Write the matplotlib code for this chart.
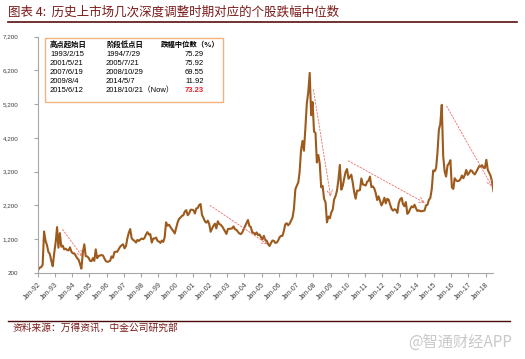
import pandas as pd
import matplotlib.pyplot as plt
import matplotlib.dates as mdates
from matplotlib.lines import Line2D
from matplotlib.patches import Rectangle
from matplotlib.ticker import FuncFormatter

plt.rcParams['font.family'] = ['Liberation Sans', 'Noto Sans CJK SC']

# Shanghai composite, one reading per month (Jan-1992 .. Jun-2018)
index_values = [
    300, 360, 375, 445, 1429, 1150, 1030, 820, 760, 560, 400, 780,          # 1992
    1100, 1558, 950, 1380, 980, 1010, 900, 920, 880, 870, 960, 830,         # 1993
    780, 780, 720, 640, 600, 470, 330, 800, 1050, 700, 690, 650,            # 1994
    560, 550, 640, 560, 900, 640, 700, 720, 730, 720, 630, 555,             # 1995
    530, 540, 560, 690, 650, 820, 830, 830, 910, 980, 1020, 1050,           # 1996
    930, 1000, 1220, 1390, 1500, 1230, 1180, 1150, 1100, 1180, 1150, 1190,  # 1997
    1220, 1200, 1240, 1340, 1410, 1340, 1350, 1100, 1220, 1220, 1250, 1150, # 1998
    1130, 1090, 1160, 1120, 1250, 1700, 1600, 1630, 1560, 1500, 1440, 1370, # 1999
    1540, 1700, 1800, 1840, 1890, 1910, 2020, 2060, 1910, 1960, 2070, 2073, # 2000
    2060, 1960, 2110, 2120, 2210, 2240, 1920, 1830, 1730, 1690, 1750, 1646, # 2001
    1420, 1520, 1600, 1660, 1520, 1730, 1650, 1630, 1580, 1510, 1430, 1357, # 2002
    1500, 1510, 1510, 1520, 1580, 1490, 1480, 1420, 1370, 1350, 1400, 1497, # 2003
    1590, 1680, 1770, 1590, 1560, 1400, 1390, 1340, 1400, 1320, 1340, 1266, # 2004
    1190, 1300, 1180, 1160, 1060, 1000, 1083, 1160, 1155, 1092, 1099, 1161, # 2005
    1258, 1299, 1298, 1440, 1641, 1672, 1612, 1658, 1752, 1837, 2099, 2675, # 2006
    2786, 2881, 3183, 3841, 4109, 3820, 4471, 5218, 5552, 6124, 4871, 5262, # 2007
    4383, 4348, 3473, 3693, 3433, 2736, 2775, 2397, 2293, 1700, 1871, 1820, # 2008
    1991, 2082, 2373, 2477, 2632, 2959, 3400, 2667, 2779, 2996, 3195, 3277, # 2009
    2989, 3051, 3109, 2870, 2592, 2398, 2638, 2638, 2655, 3000, 2820, 2808, # 2010
    2790, 2905, 2928, 3050, 2743, 2762, 2701, 2567, 2359, 2468, 2333, 2199, # 2011
    2292, 2428, 2262, 2396, 2372, 2225, 2103, 2047, 2086, 2069, 1980, 2269, # 2012
    2385, 2420, 2236, 2177, 2300, 1950, 1994, 2098, 2174, 2141, 2220, 2116, # 2013
    2033, 2056, 2033, 2026, 2039, 2048, 2201, 2217, 2364, 2420, 2683, 3235, # 2014
    3210, 3310, 3748, 4441, 4612, 5178, 3664, 3206, 3053, 3383, 3445, 3539, # 2015
    2738, 2688, 3004, 2938, 2917, 2930, 2979, 3085, 3005, 3100, 3250, 3104, # 2016
    3159, 3242, 3223, 3155, 3117, 3192, 3273, 3361, 3349, 3393, 3317, 3307, # 2017
    3550, 3250, 3170, 3080, 2900, 2620,                                     # 2018
]
dates = pd.date_range('1992-01-01', periods=len(index_values), freq='MS') + pd.Timedelta(days=14)

# red dashed arrows: (start date, start value, end date, end value)
arrow_start_dates = ['1993-06-10', '2002-01-01', '2008-01-01', '2010-01-10', '2015-09-25']
arrow_start_values = [1490, 2200, 5630, 3520, 5140]
arrow_end_dates = ['1994-08-10', '2005-05-05', '2009-01-01', '2014-06-25', '2018-05-15']
arrow_end_values = [680, 1050, 2460, 2270, 2760]

# inset table
table_header = ['高点起始日', '阶段低点日', '跌幅中位数（%）']
peak_dates = ['1993/2/15', '2001/5/21', '2007/6/19', '2009/8/4', '2015/6/12']
low_dates = ['1994/7/29', '2005/7/21', '2008/10/29', '2014/5/7', '2018/10/21（Now）']
median_drop = ['75.29', '75.92', '69.55', '11.92', '73.23']

W, H = 525, 359


def fx(x):
    return x / W


def fy(y):
    return 1 - y / H


fig = plt.figure(figsize=(W / 100, H / 100), dpi=100)
ax = fig.add_axes([fx(37.7), fy(273), fx(493) - fx(37.7), fy(36.5) - fy(273)])

ax.plot(dates, index_values, color='#9C5A1C', lw=1.5)

for sd, sv, ed, ev in zip(arrow_start_dates, arrow_start_values, arrow_end_dates, arrow_end_values):
    ax.annotate('', xy=(pd.Timestamp(ed), ev), xytext=(pd.Timestamp(sd), sv),
                arrowprops=dict(arrowstyle='->', linestyle=(0, (2, 2)), color='#EE6A6A', lw=0.6,
                                shrinkA=0, shrinkB=0))

ax.set_ylim(200, 7200)
ax.set_yticks(range(200, 7201, 1000))
ax.yaxis.set_major_formatter(FuncFormatter(lambda v, p: f'{int(v):,}'))
ax.set_xlim(pd.Timestamp('1992-01-01'), pd.Timestamp('2018-06-05'))
ax.xaxis.set_major_locator(mdates.YearLocator())
ax.xaxis.set_major_formatter(mdates.DateFormatter('%b-%y'))
for s in ['top', 'right']:
    ax.spines[s].set_visible(False)
for s in ['left', 'bottom']:
    ax.spines[s].set_color('#A6A6A6')
    ax.spines[s].set_linewidth(0.8)
ax.tick_params(axis='y', length=3, color='#A6A6A6', labelsize=4.5, labelcolor='#404040', pad=11)
ax.tick_params(axis='x', length=3, color='#A6A6A6', labelsize=5, labelcolor='#404040', pad=3)
for lab in ax.get_xticklabels():
    lab.set_rotation(45)
    lab.set_ha('right')
    lab.set_rotation_mode('anchor')

# table box
fig.add_artist(Rectangle((fx(45), fy(102)), fx(223) - fx(45), fy(37.5) - fy(102),
                         transform=fig.transFigure, fill=False, edgecolor='#F2B27E', lw=1))
cjk = ['Noto Sans CJK SC']
fig.text(fx(50), fy(44), table_header[0], fontsize=5.3, weight='bold', family=cjk, va='center')
fig.text(fx(106), fy(44), table_header[1], fontsize=5.3, weight='bold', family=cjk, va='center')
fig.text(fx(161), fy(44), table_header[2], fontsize=5.3, weight='bold', family=cjk, va='center')
row_y = [54, 63.3, 72.5, 81.8, 91]
for i, ry in enumerate(row_y):
    fig.text(fx(50), fy(ry), peak_dates[i], fontsize=5.5, va='center')
    fig.text(fx(106), fy(ry), low_dates[i], fontsize=5.5, va='center')
    last = i == len(row_y) - 1
    fig.text(fx(204), fy(ry), median_drop[i], fontsize=5.5, va='center', ha='right',
             color='#E8202A' if last else 'black', weight='bold' if last else 'normal')

# title, rules, source, watermark
fig.text(fx(8), fy(12.5), '图表 4:  历史上市场几次深度调整时期对应的个股跌幅中位数', fontsize=9,
         color='#7B1A1A', family=cjk, va='center', style='italic')
fig.add_artist(Line2D([fx(8), fx(517)], [fy(22), fy(22)], transform=fig.transFigure, color='#5A0E0E', lw=1.2))
fig.add_artist(Line2D([fx(8), fx(510)], [fy(320.7), fy(320.7)], transform=fig.transFigure, color='#4A0A0A', lw=1.0))
fig.text(fx(12.5), fy(327.5), '资料来源：万得资讯，中金公司研究部', fontsize=7, color='#7B1A1A',
         family=cjk, va='center', style='italic')
fig.text(fx(512), fy(342), '@智通财经APP', fontsize=11, color='#C9C9C9', family=cjk, va='center', ha='right')

fig.savefig('out.png', dpi=100)
